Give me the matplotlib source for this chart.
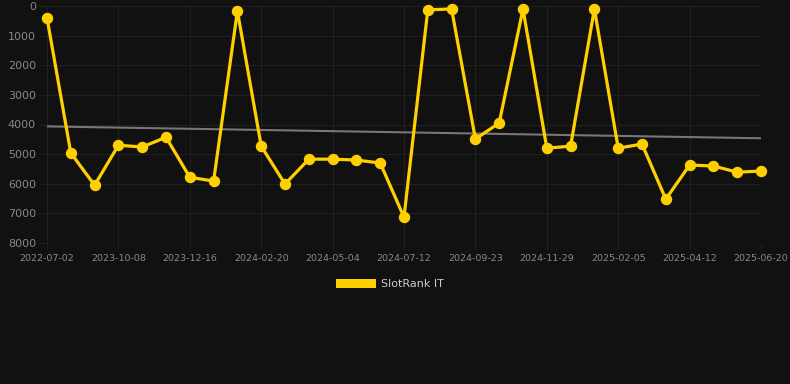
import numpy as np
import matplotlib

matplotlib.use("Agg")
import matplotlib.pyplot as plt
from matplotlib.patches import Patch

# rank per snapshot (lower = better), 31 points, labelled every 3rd
ranks = [400, 4960, 6050, 4700, 4760, 4430, 5780, 5910, 170, 4730,
         6010, 5170, 5170, 5200, 5300, 7130, 130, 100, 4490, 3950,
         100, 4800, 4730, 100, 4800, 4660, 6520, 5370, 5400, 5610, 5570]
tick_labels = ["2022-07-02", "2023-10-08", "2023-12-16", "2024-02-20",
               "2024-05-04", "2024-07-12", "2024-09-23", "2024-11-29",
               "2025-02-05", "2025-04-12", "2025-06-20"]
series_name = "SlotRank IT"

BG = "#111111"
GOLD = "#FFD000"

x = np.arange(len(ranks))
slope, icpt = np.polyfit(x, ranks, 1)

fig = plt.figure(figsize=(7.9, 3.84), dpi=100, facecolor=BG)
ax = fig.add_axes([47 / 790, 1 - 243 / 384, (761 - 47) / 790, (243 - 6) / 384])
ax.set_facecolor(BG)

ax.plot(x, icpt + slope * x, color="#777777", lw=1.5, zorder=2)
ax.plot(x, ranks, color=GOLD, lw=2.3, marker="o", ms=7.2, zorder=3, clip_on=False)

ax.set_xlim(0, len(ranks) - 1)
ax.set_ylim(8000, 0)
ax.set_yticks(range(0, 8001, 1000))
ax.set_xticks(x[::3])
ax.set_xticklabels(tick_labels)
ax.grid(True, color="#202020", lw=0.8)
for s in ax.spines.values():
    s.set_visible(False)
ax.tick_params(axis="y", colors="#202020", labelcolor="#888888", labelsize=8, length=6, pad=2)
ax.tick_params(axis="x", colors="#202020", labelcolor="#888888", labelsize=6.8, length=4, pad=4)

fig.legend(handles=[Patch(facecolor=GOLD, label=series_name)], loc="center",
           bbox_to_anchor=(390 / 790, 1 - 284 / 384), frameon=False,
           labelcolor="#cccccc", fontsize=8, handlelength=3.6, handleheight=0.9,
           handletextpad=0.5)

fig.savefig("out.png", dpi=100, facecolor=BG)
